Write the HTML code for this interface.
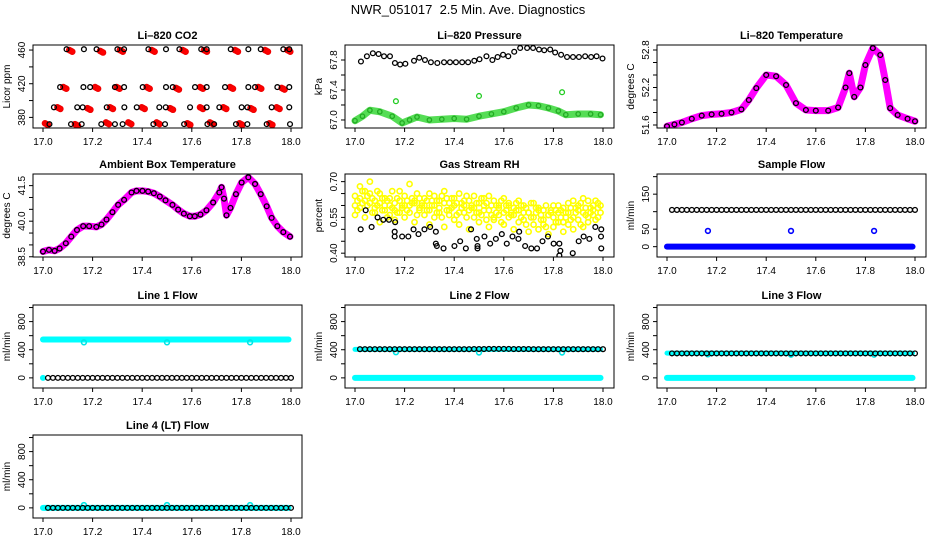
<!DOCTYPE html>
<html><head><meta charset="utf-8"><style>
html,body{margin:0;padding:0;background:#fff;}
svg{display:block;font-family:"Liberation Sans",sans-serif;}
</style></head><body>
<svg id="chart" width="936" height="540" viewBox="0 0 936 540" xmlns="http://www.w3.org/2000/svg">
<rect width="936" height="540" fill="#fff"/>
<text x="468" y="14" font-size="13" text-anchor="middle">NWR_051017&#160; 2.5 Min. Ave. Diagnostics</text>
</svg>
<script>
// ---------- data ----------
const xTicks=[17.0,17.2,17.4,17.6,17.8,18.0];
const xTickLabels=["17.0","17.2","17.4","17.6","17.8","18.0"];

const co2BlackT=[17.095,17.165,17.216,17.300,17.327,17.425,17.496,17.550,17.638,17.660,17.757,17.828,17.878,17.969,17.993,
17.069,17.163,17.190,17.290,17.327,17.402,17.496,17.523,17.613,17.660,17.734,17.828,17.855,17.945,17.993,
17.044,17.138,17.160,17.257,17.328,17.378,17.469,17.495,17.593,17.660,17.711,17.801,17.824,17.922,17.993,
17.026,17.113,17.156,17.235,17.290,17.321,17.445,17.492,17.569,17.663,17.690,17.778,17.824,17.902,17.996];
const co2BlackV=[461,461,461,461,461,461,461,461,461,461,461,461,461,461,461,
416,416,416,416,416,416,416,416,416,416,416,416,416,416,416,
392,392,392,392,392,392,392,392,392,392,392,392,392,392,392,
372,372,372,372,372,372,372,372,372,372,372,372,372,372,372];
const co2RedT=[17.106,17.230,17.310,17.438,17.563,17.649,17.774,17.895,17.985,
17.082,17.210,17.297,17.418,17.536,17.633,17.754,17.868,17.962,
17.058,17.179,17.270,17.398,17.512,17.633,17.727,17.837,17.942,
17.008,17.129,17.254,17.344,17.458,17.582,17.673,17.792,17.913];
const co2RedV=[460,459,460,460,460,460,460,460,460,
416,416,416,416,415,416,416,416,415,
392,391,392,392,391,392,392,391,392,
373,372,374,374,374,373,374,373,373];

const presBlackT=[17.024,17.048,17.072,17.095,17.117,17.141,17.161,17.182,17.203,17.238,17.259,17.282,17.306,17.332,17.359,17.383,17.407,17.432,17.456,17.481,17.502,17.530,17.554,17.575,17.597,17.618,17.642,17.666,17.694,17.718,17.742,17.763,17.787,17.807,17.831,17.855,17.879,17.903,17.928,17.952,17.974,17.998];
const presBlackV=[67.78,67.85,67.89,67.88,67.85,67.85,67.76,67.74,67.75,67.79,67.83,67.80,67.77,67.76,67.77,67.77,67.77,67.77,67.77,67.79,67.81,67.85,67.80,67.84,67.87,67.85,67.91,67.96,67.96,67.96,67.94,67.93,67.94,67.90,67.87,67.84,67.84,67.84,67.85,67.84,67.85,67.82];
const presGreenT=[17.00,17.03,17.06,17.10,17.15,17.19,17.22,17.25,17.30,17.35,17.40,17.45,17.50,17.55,17.60,17.65,17.70,17.74,17.78,17.82,17.85,17.90,17.95,17.99];
const presGreenV=[66.99,67.05,67.13,67.11,67.05,66.96,67.00,67.04,67.00,67.01,67.02,67.01,67.05,67.08,67.11,67.16,67.20,67.19,67.16,67.12,67.07,67.08,67.08,67.07];
const presOutT=[17.165,17.50,17.835];
const presOutV=[67.25,67.32,67.37];

const ltempT=[17.00,17.03,17.06,17.10,17.14,17.18,17.22,17.26,17.30,17.33,17.36,17.40,17.44,17.48,17.52,17.56,17.60,17.65,17.69,17.72,17.735,17.755,17.78,17.80,17.83,17.86,17.88,17.90,17.93,17.97,18.00];
const ltempV=[51.58,51.61,51.64,51.70,51.75,51.77,51.78,51.80,51.85,52.00,52.19,52.40,52.38,52.24,51.95,51.84,51.83,51.83,51.88,52.20,52.43,52.05,52.20,52.56,52.83,52.72,52.32,51.87,51.76,51.70,51.66];

const ambT=[17.000,17.024,17.047,17.067,17.092,17.114,17.137,17.162,17.186,17.215,17.236,17.256,17.280,17.303,17.327,17.357,17.377,17.401,17.424,17.447,17.471,17.494,17.522,17.545,17.568,17.592,17.612,17.635,17.659,17.686,17.711,17.720,17.730,17.740,17.756,17.778,17.801,17.828,17.855,17.878,17.902,17.922,17.945,17.969,17.996];
const ambV=[38.72,38.79,38.75,38.85,39.07,39.35,39.63,39.79,39.79,39.76,39.86,40.07,40.38,40.69,40.90,41.21,41.28,41.28,41.25,41.18,41.04,40.88,40.69,40.49,40.32,40.21,40.21,40.28,40.46,40.79,41.21,41.43,40.95,40.25,40.56,41.14,41.63,41.85,41.57,41.14,40.63,40.14,39.79,39.54,39.35];

const rhYT=[17.00,17.02,17.04,17.06,17.08,17.10,17.12,17.14,17.16,17.18,17.20,17.22,17.24,17.26,17.28,17.30,17.32,17.34,17.36,17.38,17.40,17.42,17.44,17.46,17.48,17.50,17.52,17.54,17.56,17.58,17.60,17.62,17.64,17.66,17.68,17.70,17.72,17.74,17.76,17.78,17.80,17.82,17.84,17.86,17.88,17.90,17.92,17.94,17.96,17.98];
const rhYT2=[17.01,17.03,17.05,17.07,17.09,17.11,17.13,17.15,17.17,17.19,17.21,17.23,17.25,17.27,17.29,17.31,17.33,17.35,17.37,17.39,17.41,17.43,17.45,17.47,17.49,17.51,17.53,17.55,17.57,17.59,17.61,17.63,17.65,17.67,17.69,17.71,17.73,17.75,17.77,17.79,17.81,17.83,17.85,17.87,17.89,17.91,17.93,17.95,17.97,17.99];
const rhYA=[0.64,0.68,0.66,0.70,0.62,0.65,0.60,0.63,0.61,0.66,0.64,0.69,0.62,0.63,0.60,0.65,0.64,0.62,0.66,0.61,0.63,0.65,0.60,0.62,0.64,0.61,0.63,0.64,0.62,0.60,0.63,0.61,0.59,0.62,0.60,0.57,0.61,0.59,0.58,0.56,0.60,0.57,0.59,0.61,0.62,0.60,0.63,0.62,0.60,0.61];
const rhYB=[0.56,0.59,0.55,0.61,0.57,0.53,0.58,0.56,0.54,0.57,0.55,0.60,0.53,0.58,0.56,0.52,0.55,0.57,0.51,0.56,0.54,0.52,0.57,0.50,0.55,0.53,0.58,0.51,0.54,0.56,0.52,0.55,0.50,0.53,0.57,0.49,0.52,0.50,0.54,0.48,0.51,0.53,0.49,0.52,0.50,0.54,0.51,0.53,0.56,0.55];
const rhYC=[0.60,0.63,0.62,0.65,0.59,0.61,0.63,0.60,0.58,0.62,0.60,0.57,0.61,0.59,0.63,0.58,0.60,0.59,0.61,0.58,0.60,0.57,0.62,0.58,0.59,0.57,0.60,0.58,0.55,0.59,0.57,0.60,0.56,0.58,0.54,0.57,0.55,0.58,0.52,0.56,0.55,0.60,0.53,0.57,0.55,0.58,0.57,0.55,0.58,0.59];
const rhYD=[0.62,0.66,0.60,0.63,0.66,0.58,0.62,0.66,0.63,0.59,0.62,0.61,0.65,0.60,0.62,0.60,0.62,0.64,0.58,0.63,0.61,0.59,0.64,0.60,0.57,0.63,0.61,0.56,0.60,0.62,0.58,0.57,0.61,0.55,0.59,0.61,0.57,0.54,0.60,0.58,0.53,0.58,0.55,0.59,0.57,0.61,0.56,0.59,0.62,0.57];
const rhYE=[0.58,0.61,0.64,0.57,0.60,0.63,0.55,0.59,0.57,0.60,0.58,0.63,0.56,0.61,0.58,0.62,0.57,0.55,0.63,0.59,0.56,0.61,0.55,0.59,0.61,0.56,0.54,0.60,0.57,0.53,0.60,0.56,0.58,0.60,0.52,0.55,0.59,0.56,0.51,0.57,0.58,0.55,0.57,0.54,0.59,0.52,0.59,0.57,0.54,0.60];
const rhBT=[17.023,17.043,17.067,17.091,17.114,17.137,17.162,17.160,17.160,17.190,17.215,17.236,17.256,17.280,17.303,17.326,17.326,17.330,17.357,17.401,17.424,17.447,17.468,17.491,17.494,17.494,17.522,17.545,17.568,17.592,17.612,17.635,17.659,17.662,17.686,17.711,17.734,17.756,17.778,17.801,17.824,17.828,17.824,17.878,17.902,17.922,17.945,17.969,17.992,17.993,17.993];
const rhBV=[0.50,0.58,0.51,0.55,0.54,0.54,0.53,0.49,0.47,0.47,0.47,0.50,0.48,0.50,0.51,0.49,0.44,0.43,0.42,0.43,0.45,0.42,0.50,0.46,0.42,0.43,0.47,0.44,0.46,0.48,0.44,0.47,0.46,0.49,0.43,0.42,0.42,0.45,0.47,0.44,0.44,0.41,0.39,0.40,0.45,0.47,0.46,0.51,0.47,0.50,0.42];

const flowT=[17.02,17.04,17.06,17.08,17.10,17.12,17.14,17.16,17.18,17.20,17.22,17.24,17.26,17.28,17.30,17.32,17.34,17.36,17.38,17.40,17.42,17.44,17.46,17.48,17.50,17.52,17.54,17.56,17.58,17.60,17.62,17.64,17.66,17.68,17.70,17.72,17.74,17.76,17.78,17.80,17.82,17.84,17.86,17.88,17.90,17.92,17.94,17.96,17.98,18.00];
const sampleBlackV=[105,105,105,105,105,105,105,105,105,105,105,105,105,105,105,105,105,105,105,105,105,105,105,105,105,105,105,105,105,105,105,105,105,105,105,105,105,105,105,105,105,105,105,105,105,105,105,105,105,105];
const zeroV=[0,0,0,0,0,0,0,0,0,0,0,0,0,0,0,0,0,0,0,0,0,0,0,0,0,0,0,0,0,0,0,0,0,0,0,0,0,0,0,0,0,0,0,0,0,0,0,0,0,0];
const line2BlackV=[408,408,408,408,408,408,408,408,408,408,408,408,408,408,408,408,408,408,408,408,408,408,408,410,410,410,412,412,412,412,412,410,410,410,410,408,408,408,408,408,408,408,408,408,408,408,408,408,408,408];
const line3BlackV=[348,348,348,348,348,348,348,348,348,348,348,348,348,348,348,348,348,348,348,348,348,348,348,348,348,348,348,348,348,348,348,348,348,348,348,348,348,348,348,348,348,348,348,348,348,348,348,348,348,348];
const bandT=[17.00,17.99];
const sampleBlueV=[0,0];
const line1CyanV=[545,545];
const line2CyanHiV=[405,405];
const line3CyanHiV=[352,352];
const cyanZeroV=[0,0];
const dipT=[17.165,17.50,17.835];
const sampleDipV=[45,45,45];
const line1DipV=[505,505,505];
const line2DipV=[365,360,360];
const line3DipV=[335,330,330];
const line4DipV=[40,40,40];

// ---------- drawing ----------
const NS="http://www.w3.org/2000/svg";
const svg=document.getElementById('chart');
const COLS=[{l:33,r:302,x0:43,x1:291},{l:345,r:614,x0:355,x1:603},{l:657,r:926,x0:667,x1:915}];
const ROWS=[45,174,305,435];
const H=83;
let clipN=0;
function mk(tag,attrs,parent){const e=document.createElementNS(NS,tag);for(const k in attrs)e.setAttribute(k,attrs[k]);(parent||svg).appendChild(e);return e;}

function panel(name,c,r,title,ylab,vTop,vBot,yTicks,yLabels){
  const C=COLS[c],top=ROWS[r],bot=top+H;
  const g=mk('g',{});
  
  
  const sx=t=>C.x0+(t-17)*(C.x1-C.x0);
  const sy=v=>top+(vTop-v)/(vTop-vBot)*H;
  const tt=mk('text',{x:(C.l+C.r)/2,y:top-6,'font-size':11,'font-weight':'bold','text-anchor':'middle'},g);
  tt.textContent=title;
  
  
  const xa=mk('g',{},g);
  
  
  xTicks.forEach((t,i)=>{
    mk('line',{x1:sx(t),x2:sx(t),y1:bot,y2:bot+4,stroke:'#000','stroke-width':1},xa);
    const tx=mk('text',{x:sx(t),y:bot+17,'font-size':10,'text-anchor':'middle'},xa);
    tx.textContent=xTickLabels[i];
  });
  const ya=mk('g',{},g);
  
  
  yTicks.forEach(v=>{mk('line',{x1:C.l-4,x2:C.l,y1:sy(v),y2:sy(v),stroke:'#000','stroke-width':1},ya);});
  yLabels.forEach(v=>{
    const y=sy(v),x=C.l-8;
    const tx=mk('text',{x:x,y:y,'font-size':10,'text-anchor':'middle',transform:`rotate(-90 ${x} ${y})`},ya);
    tx.textContent=v.toFixed(yLabels.dec||0);
  });
  const yt=mk('text',{x:C.l-23,y:(top+bot)/2,'font-size':10,'text-anchor':'middle',transform:`rotate(-90 ${C.l-23} ${(top+bot)/2})`},g);
  yt.textContent=ylab;
  
  
  const id='cp'+(clipN++);
  const cp=mk('clipPath',{id:id},g);mk('rect',{x:C.l,y:top,width:C.r-C.l,height:H},cp);
  const plot=mk('g',{'clip-path':`url(#${id})`},g);
  
  
  const box=mk('rect',{x:C.l,y:top,width:C.r-C.l,height:H,fill:'none',stroke:'#000','stroke-width':1},g);
  
  
  return {sx,sy,plot};
}
function pts(P,T,V,col,name,r,fill,sw){
  const g=mk('g',{},P.plot);
  
  
  T.forEach((t,i)=>{mk('circle',{cx:P.sx(t),cy:P.sy(V[i]),r:r||2.4,fill:fill||'none',stroke:col,'stroke-width':sw||1.3},g);});
}
function band(P,T,V,col,w,name){
  const d=T.map((t,i)=>(i?'L':'M')+P.sx(t)+' '+P.sy(V[i])).join(' ');
  const p=mk('path',{d:d,fill:'none',stroke:col,'stroke-width':w,'stroke-linejoin':'round','stroke-linecap':'round'},P.plot);
  
  
}
function lab(arr,dec){arr.dec=dec;return arr;}

let P=panel('co2',0,0,'Li\u2013820 CO2','Licor ppm',466,367.4,[380,400,420,440,460],lab([380,420,460],0));
const redG=mk('g',{},P.plot);


co2RedT.forEach((t,i)=>{[0,0.006,0.012].forEach((o,j)=>{mk('circle',{cx:P.sx(t+o),cy:P.sy(co2RedV[i])+j*0.8,r:2.8,fill:'#f00',stroke:'#e00','stroke-width':1},redG);});});
pts(P,co2BlackT,co2BlackV,'#000','co2-black-series');

P=panel('pressure',1,0,'Li\u2013820 Pressure','kPa',68.0,66.893,[67.0,67.2,67.4,67.6,67.8],lab([67.0,67.4,67.8],1));
band(P,presGreenT,presGreenV,'#55dd55',7,'pressure-green-band');
pts(P,presGreenT,presGreenV,'#22aa22','pressure-green-series',2.2);
pts(P,presOutT,presOutV,'#22cc22','pressure-green-outliers');
pts(P,presBlackT,presBlackV,'#000','pressure-black-series');

P=panel('li-temperature',2,0,'Li\u2013820 Temperature','degrees C',52.88,51.552,[51.6,51.8,52.0,52.2,52.4,52.6,52.8],lab([51.6,52.2,52.8],1));
band(P,ltempT,ltempV,'#ff00ff',7,'li-temperature-magenta-band');
pts(P,ltempT,ltempV,'#000','li-temperature-black-series');

P=panel('ambient-temperature',0,1,'Ambient Box Temperature','degrees C',41.99,38.49,[38.5,39.0,39.5,40.0,40.5,41.0,41.5],lab([38.5,40.0,41.5],1));
band(P,ambT,ambV,'#ff00ff',7,'ambient-magenta-band');
pts(P,ambT,ambV,'#000','ambient-black-series');

P=panel('gas-rh',1,1,'Gas Stream RH','percent',0.732,0.384,[0.40,0.45,0.50,0.55,0.60,0.65,0.70],lab([0.40,0.55,0.70],2));
pts(P,rhYT,rhYA,'#ffff00','rh-yellow-series-a',2.6,'none',1.6);
pts(P,rhYT,rhYB,'#ffff00','rh-yellow-series-b',2.6,'none',1.6);
pts(P,rhYT,rhYC,'#ffff00','rh-yellow-series-c',2.6,'none',1.6);
pts(P,rhYT2,rhYD,'#ffff00','rh-yellow-series-d',2.6,'none',1.6);
pts(P,rhYT2,rhYE,'#ffff00','rh-yellow-series-e',2.6,'none',1.6);
pts(P,rhBT,rhBV,'#000','rh-black-series');

P=panel('sample-flow',2,1,'Sample Flow','ml/min',207.6,-29.5,[0,50,100,150,200],lab([0,50,150],0));
band(P,bandT,sampleBlueV,'#0000ff',6,'sample-blue-band');
pts(P,dipT,sampleDipV,'#0000ff','sample-blue-outliers',2.4,'none',1.6);
pts(P,flowT,sampleBlackV,'#000','sample-black-series');

const fT=[0,200,400,600,800,1000],fL=lab([0,400,800],0);
P=panel('line1-flow',0,2,'Line 1 Flow','ml/min',1036,-144,fT,fL);
band(P,bandT,line1CyanV,'#00ffff',6,'line1-cyan-band');
pts(P,dipT,line1DipV,'#00e5e5','line1-cyan-dips',2.4,'none',1.6);
pts(P,[17.0],[0],'#00ffff','line1-cyan-zero',2.4,'#00ffff');
pts(P,flowT,zeroV,'#000','line1-black-series');

P=panel('line2-flow',1,2,'Line 2 Flow','ml/min',1036,-144,fT,fL);
band(P,bandT,cyanZeroV,'#00ffff',6,'line2-cyan-zero-band');
band(P,bandT,line2CyanHiV,'#00ffff',5,'line2-cyan-band');
pts(P,dipT,line2DipV,'#00e5e5','line2-cyan-dips',2.4,'none',1.6);
pts(P,flowT,line2BlackV,'#000','line2-black-series');

P=panel('line3-flow',2,2,'Line 3 Flow','ml/min',1036,-144,fT,fL);
band(P,bandT,cyanZeroV,'#00ffff',6,'line3-cyan-zero-band');
band(P,bandT,line3CyanHiV,'#00ffff',5,'line3-cyan-band');
pts(P,dipT,line3DipV,'#00e5e5','line3-cyan-dips',2.4,'none',1.6);
pts(P,flowT,line3BlackV,'#000','line3-black-series');

P=panel('line4-flow',0,3,'Line 4 (LT) Flow','ml/min',1036,-144,fT,fL);
band(P,bandT,cyanZeroV,'#00ffff',6,'line4-cyan-band');
pts(P,dipT,line4DipV,'#00e5e5','line4-cyan-bumps',2.4,'none',1.6);
pts(P,flowT,zeroV,'#000','line4-black-series');
</script>
</body></html>
